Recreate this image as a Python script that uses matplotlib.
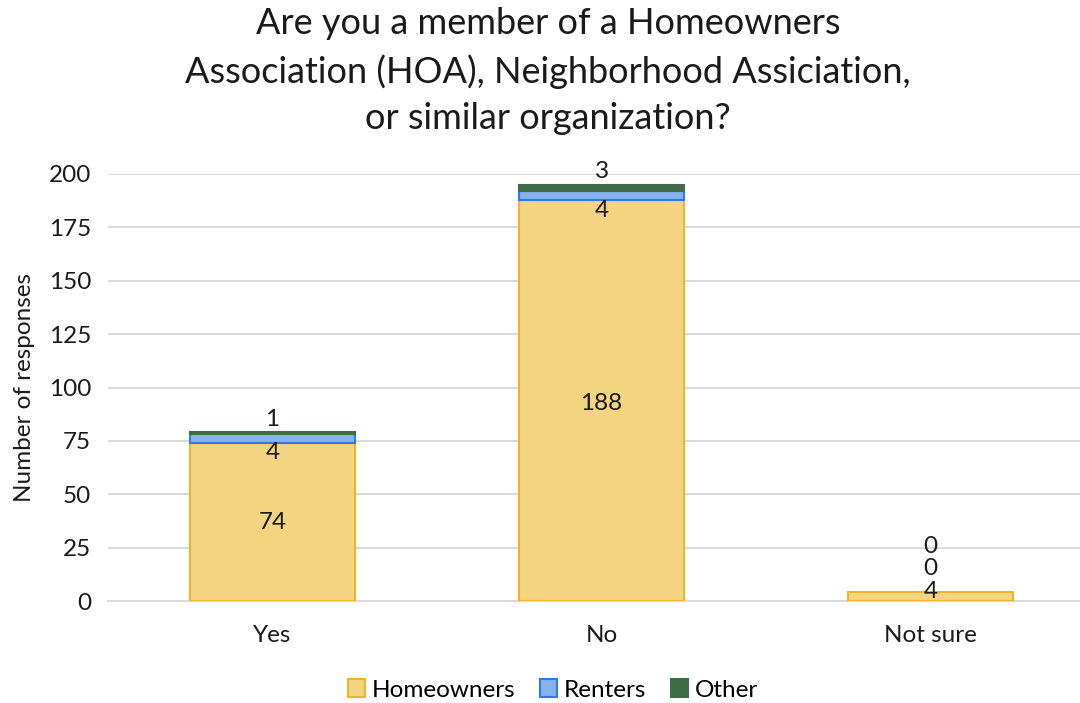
import matplotlib.pyplot as plt
import numpy as np

plt.rcParams['font.family'] = ['Lato', 'DejaVu Sans']

categories = ['Yes', 'No', 'Not sure']
homeowners = [74, 188, 4]
renters = [4, 4, 0]
other = [1, 3, 0]

series_names = ['Homeowners', 'Renters', 'Other']
face_colors = ['#F3D480', '#86B2F0', '#3F6B47']
edge_colors = ['#EDB52A', '#2F78E8', '#3F6B47']
# label nudges (points) so the small segment labels don't collide
label_offsets = [[0, -2, 4], [-10, -11, 17], [10, 12, 33]]

fig = plt.figure(figsize=(10.8, 7.03), dpi=100)
ax = fig.add_axes([108 / 1080, 1 - 601 / 703, 987 / 1080, 427 / 703])

x = np.arange(len(categories))
bottom = np.zeros(len(categories))
for values, name, fc, ec, offs in zip([homeowners, renters, other], series_names,
                                       face_colors, edge_colors, label_offsets):
    values = np.array(values, dtype=float)
    ax.bar(x, values, 0.5, bottom=bottom, color=fc, edgecolor=ec,
           linewidth=np.where(values > 0, 1.5, 0), label=name, zorder=3)
    for i, v in enumerate(values):
        ax.annotate(str(int(v)), (x[i], bottom[i] + v / 2), xytext=(0, offs[i]),
                    textcoords='offset points', ha='center', va='center',
                    fontsize=17.5, color='#1a1a1a', zorder=4)
    bottom += values

ax.set_xlim(-0.5, 2.5)
ax.set_ylim(0, 200)
ax.set_yticks(range(0, 201, 25))
ax.set_xticks(x)
ax.set_xticklabels(categories)
ax.tick_params(length=0, labelsize=17.5, colors='#1a1a1a')
ax.tick_params(axis='x', pad=17)
ax.tick_params(axis='y', pad=12)
ax.yaxis.grid(True, color='#D9D9D9', linewidth=1.4, zorder=0)
for side in ['top', 'right', 'left']:
    ax.spines[side].set_visible(False)
ax.spines['bottom'].set_color('#D9D9D9')
ax.spines['bottom'].set_linewidth(1.4)

ax.set_ylabel('Number of responses', fontsize=17.5, color='#1a1a1a', labelpad=10)

fig.suptitle('Are you a member of a Homeowners\nAssociation (HOA), Neighborhood Assiciation,\nor similar organization?',
             x=548 / 1080, y=0.99, fontsize=26, color='#1a1a1a', linespacing=1.5)

fig.legend(loc='center', bbox_to_anchor=(553 / 1080, 1 - 690 / 703), ncol=3,
           frameon=False, fontsize=17.5, handlelength=0.7, handleheight=0.7,
           handletextpad=0.3, columnspacing=1.0)

fig.savefig('out.png', dpi=100)
